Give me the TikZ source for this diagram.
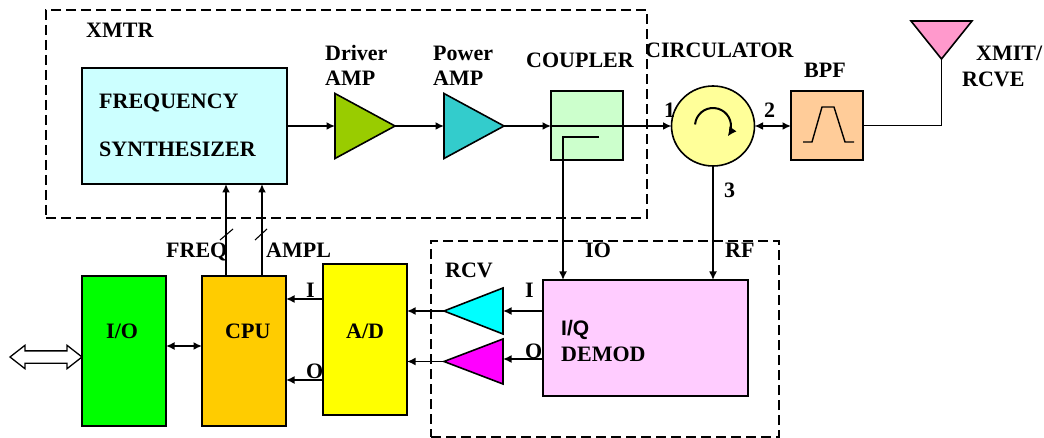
\documentclass[tikz,border=0pt]{standalone}
\usepackage{fontspec}
\setmainfont{Liberation Serif}
\setsansfont{Liberation Sans}
\usepackage{xcolor}
\usetikzlibrary{shapes.geometric,shapes.arrows,arrows.meta}
\definecolor{synthcol}{HTML}{CCFFFF}
\definecolor{drivercol}{HTML}{99CC00}
\definecolor{powercol}{HTML}{33CCCC}
\definecolor{couplercol}{HTML}{CCFFCC}
\definecolor{circcol}{HTML}{FFFF99}
\definecolor{bpfcol}{HTML}{FFCC99}
\definecolor{antcol}{HTML}{FF99CC}
\definecolor{cpucol}{HTML}{FFCC00}
\definecolor{demodcol}{HTML}{FFCCFF}
\definecolor{adcol}{HTML}{FFFF00}
\definecolor{iocol}{HTML}{00FF00}
\definecolor{rcvicol}{HTML}{00FFFF}
\definecolor{rcvqcol}{HTML}{FF00FF}
\tikzset{
    wire/.style={line width=1.7pt},
    arr/.style={wire,-{Latex[length=8.5pt,width=8pt]}},
    biarr/.style={wire,{Latex[length=8.5pt,width=8pt]}-{Latex[length=8.5pt,width=8pt]}},
    blockbox/.style={draw,line width=1.6pt,inner sep=0pt,outer sep=0pt},
    dashbox/.style={draw,line width=1.3pt,dash pattern=on 10pt off 5pt,inner sep=0pt,outer sep=0pt},
    amp/.style={draw,line width=1.6pt,isosceles triangle,isosceles triangle stretches,inner sep=0pt,outer sep=0pt,anchor=lower side},
    lbl/.style={font=\fontsize{22}{25}\selectfont\bfseries,inner sep=0pt,anchor=base west}
}
\begin{document}
\begin{tikzpicture}[x=1pt,y=-1pt]
    \useasboundingbox (0,0) rectangle (1044,438);

    % dashed groups
    \node[dashbox,minimum width=601pt,minimum height=208pt] (xmtr) at (346.5,114) {};
    \node[dashbox,minimum width=348pt,minimum height=196pt] (rcv) at (605,339) {};

    % blocks
    \node[blockbox,fill=synthcol,minimum width=205pt,minimum height=116pt] (synth) at (184.5,126) {};
    \node[blockbox,fill=couplercol,minimum width=72pt,minimum height=69pt] (coupler) at (587,125.5) {};
    \node[blockbox,fill=circcol,ellipse,minimum width=83pt,minimum height=80pt] (circ) at (713,126) {};
    \node[blockbox,fill=bpfcol,minimum width=72pt,minimum height=69pt] (bpf) at (827,125.5) {};
    \node[blockbox,fill=demodcol,minimum width=205pt,minimum height=116pt] (demod) at (645.5,338) {};
    \node[blockbox,fill=adcol,minimum width=84pt,minimum height=151pt] (ad) at (365,339.5) {};
    \node[blockbox,fill=cpucol,minimum width=84pt,minimum height=150pt] (cpu) at (244,351) {};
    \node[blockbox,fill=iocol,minimum width=84pt,minimum height=150pt] (io) at (124,351) {};

    % amplifiers and antenna
    \node[amp,fill=drivercol,minimum width=65pt,minimum height=60pt] (driver) at (335,126) {};
    \node[amp,fill=powercol,minimum width=65pt,minimum height=60pt] (power) at (444,126) {};
    \node[amp,fill=rcvicol,shape border rotate=180,minimum width=46pt,minimum height=59pt] (rcvi) at (503,311) {};
    \node[amp,fill=rcvqcol,shape border rotate=180,minimum width=45pt,minimum height=59pt] (rcvq) at (503,361.5) {};
    \node[amp,fill=antcol,shape border rotate=270,anchor=apex,minimum width=61pt,minimum height=38pt] (ant) at (941.5,59) {};

    % external port
    \node[draw,fill=white,line width=1.3pt,double arrow,double arrow tip angle=76,double arrow head extend=5.5pt,
          inner xsep=0pt,inner ysep=5.5pt,outer sep=0pt,minimum height=72pt,minimum width=22pt] (port) at (46,357) {};

    % transmit chain
    \draw[arr] (synth.east |- driver.lower side) -- (driver.lower side);
    \draw[arr] (driver.apex) -- (power.lower side);
    \draw[arr] (power.apex) -- (coupler.west |- power.apex);
    \draw[arr] (coupler.west |- circ.west) -- (circ.west);
    \draw[biarr] (circ.east) -- (bpf.west |- circ.east);
    \draw[wire] (bpf.east) -| (ant.apex);

    % receive chain
    \coordinate (cpltap) at (599,137);
    \coordinate (ioport) at (563,280);
    \draw[arr] (cpltap) -| (ioport);
    \draw[arr] (circ.south) -- (circ.south |- demod.north);
    \draw[arr] (demod.west |- rcvi.lower side) -- (rcvi.lower side);
    \draw[arr] (demod.west |- 0,359) -- (rcvq.lower side |- 0,359);
    \draw[arr] (rcvi.apex) -- (ad.east |- rcvi.apex);
    \draw[arr] (rcvq.apex) -- (ad.east |- rcvq.apex);

    % control and data
    \draw[arr] (ad.west |- 0,299) -- (cpu.east |- 0,299);
    \draw[arr] (ad.west |- 0,380) -- (cpu.east |- 0,380);
    \draw[biarr] (cpu.west |- 0,346) -- (io.east |- 0,346);
    \draw[arr] ([xshift=-18pt]cpu.north) -- ([xshift=-18pt]cpu.north |- synth.south);
    \draw[arr] ([xshift=18pt]cpu.north) -- ([xshift=18pt]cpu.north |- synth.south);
    \draw[line width=1.1pt] (220,240) -- (233,229);
    \draw[line width=1.1pt] (255,240) -- (267,229);

    % circulator and filter symbols
    \draw[line width=2pt,-{Latex[length=9pt,width=9pt]}] (circ.center) ++(185:18) arc (185:395:18);
    \draw[line width=1.4pt] (803,142) -- (812,142) -- (822,107) -- (834,107) -- (845,142) -- (854,142);

    % labels
    \foreach \n/\x/\y/\l in {tx/86/38/XMTR, drv/325/61/Driver, drvamp/325/86/AMP, pwr/433/61/Power, pwramp/433/86/AMP,
        cpl/526/68/COUPLER, cir/645/58/CIRCULATOR, flt/804/78/BPF, xmit/976/61/{XMIT/}, rcve/962/87/RCVE,
        frq/99/109/FREQUENCY, syn/99/157/SYNTHESIZER,
        pone/664/118/1, ptwo/764/118/2, pthree/724/198/3,
        frql/166/258/FREQ, ampl/266/258/AMPL, cpui/306/298/I, cpuo/306/378/O,
        iol/106/338/{I/O}, cpul/225/338/CPU, adl/346/338/{A/D},
        rx/445/278/RCV, iolo/585/258/IO, rfl/725/258/RF, demi/525/298/I, demo/525/358/O, dem/561/361/DEMOD} {
        \node[lbl] (\n) at (\x,\y) {\l};
    }
    \node[lbl,font=\fontsize{21}{25}\selectfont\sffamily\bfseries] (iqlbl) at (561,335) {I/Q};
\end{tikzpicture}
\end{document}
